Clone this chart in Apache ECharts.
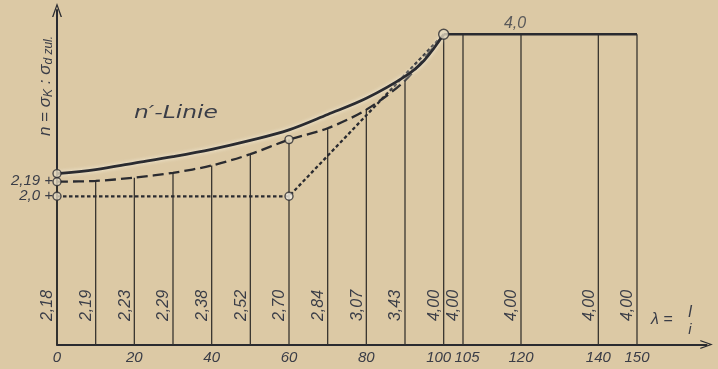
<!DOCTYPE html>
<html>
<head>
<meta charset="utf-8">
<script src="https://cdn.jsdelivr.net/npm/echarts@6/dist/echarts.min.js"></script>
<style>
  html, body { margin: 0; padding: 0; background: #dcc9a5; }
  #chart { width: 718px; height: 369px; }
</style>
</head>
<body>
<div id="chart"></div>
<script>
// Slenderness ratio λ = l/i at the marked stations
const lambdaValues = [0, 10, 20, 30, 40, 50, 60, 70, 80, 90, 100, 105, 120, 140, 150];
// Safety factor n = σK : σd zul. at each station
const nValues = [2.18, 2.19, 2.23, 2.29, 2.38, 2.52, 2.70, 2.84, 3.07, 3.43, 4.00, 4.00, 4.00, 4.00, 4.00];
// n'-line (solid curve)
const nPrimeLambda = [0, 10, 20, 30, 40, 50, 60, 70, 80, 90, 95, 100];
const nPrimeValues = [2.28, 2.33, 2.41, 2.49, 2.58, 2.69, 2.82, 3.01, 3.21, 3.48, 3.68, 4.00];
// Simplified straight-line approximation (dotted)
const simpleLambda = [0, 60, 100];
const simpleValues = [2.0, 2.0, 4.0];
// Axis ticks
const xTickValues = [0, 20, 40, 60, 80, 100, 105, 120, 140, 150];
const yTickValues = [2.0, 2.19];
const yTickLabels = ['2,0', '2,19'];
const plateauLabel = '4,0';
const plateauLabelAt = 120;

const INK = '#2a2b30';
const TEXT = '#3a3d47';
const PAPER = '#dcc9a5';
const FONT = '"Liberation Sans", "DejaVu Sans", sans-serif';

const Y_MIN = 0.17, Y_MAX = 4.30;
const X_MAX = 168;

const curvePoints = lambdaValues
  .map((l, i) => [l, nValues[i]])
  .filter(p => p[0] <= 100);
const plateauPoints = lambdaValues
  .map((l, i) => [l, nValues[i]])
  .filter(p => p[0] >= 100);
const nPrimePoints = nPrimeLambda.map((l, i) => [l, nPrimeValues[i]]);
const simplePoints = simpleLambda.map((l, i) => [l, simpleValues[i]]);

const chevron = 'path://M0,14 L5,0 L10,14 L8.6,14 L5,3.6 L1.4,14 Z';

const chart = echarts.init(document.getElementById('chart'), null, { renderer: 'canvas' });

chart.setOption({
  backgroundColor: PAPER,
  animation: false,
  grid: { left: 57, right: 11.4, top: 10, bottom: 24.5, outerBoundsMode: 'none' },
  xAxis: {
    type: 'value',
    min: 0,
    max: X_MAX,
    splitLine: { show: false },
    axisTick: { show: false },
    axisLine: {
      lineStyle: { color: INK, width: 2 },
      symbol: ['none', chevron],
      symbolSize: [9, 13]
    },
    axisLabel: {
      customValues: xTickValues,
      margin: 6,
      color: TEXT,
      fontStyle: 'italic',
      fontFamily: FONT,
      fontSize: 15,
      formatter: v => v === 100 ? '{l|100}' : v === 105 ? '{r|105}' : String(v),
      rich: {
        l: { padding: [0, 10, 0, 0], fontStyle: 'italic', fontFamily: FONT, fontSize: 15, color: TEXT },
        r: { padding: [0, 0, 0, 8], fontStyle: 'italic', fontFamily: FONT, fontSize: 15, color: TEXT }
      }
    }
  },
  yAxis: {
    type: 'value',
    min: Y_MIN,
    max: Y_MAX,
    splitLine: { show: false },
    axisTick: { show: false },
    axisLine: {
      lineStyle: { color: INK, width: 2 },
      symbol: ['none', chevron],
      symbolSize: [10, 14]
    },
    axisLabel: {
      customValues: yTickValues,
      margin: 4,
      color: TEXT,
      fontStyle: 'italic',
      fontFamily: FONT,
      fontSize: 15,
      formatter: v => {
        const i = yTickValues.findIndex(t => Math.abs(t - v) < 1e-6);
        return (i >= 0 ? yTickLabels[i] : '') + ' +';
      }
    }
  },
  series: [
    {
      // station verticals with their n values
      type: 'custom',
      z: 2,
      data: lambdaValues.map((l, i) => [l, nValues[i]]),
      renderItem: (params, api) => {
        const lam = api.value(0);
        const v = api.value(1);
        const top = api.coord([lam, v]);
        const base = params.coordSys.y + params.coordSys.height;
        return {
          type: 'group',
          children: [
            {
              type: 'line',
              shape: { x1: top[0], y1: base, x2: top[0], y2: top[1] },
              style: { stroke: '#38352f', lineWidth: 1.3 }
            },
            {
              type: 'text',
              x: top[0] - 9,
              y: base - 39,
              rotation: Math.PI / 2,
              style: {
                text: v.toFixed(2).replace('.', ','),
                fill: TEXT,
                font: 'italic 16px ' + FONT,
                align: 'center',
                verticalAlign: 'middle'
              }
            }
          ]
        };
      }
    },
    {
      // simplified approximation
      type: 'line',
      z: 3,
      data: simplePoints,
      showSymbol: false,
      lineStyle: { color: INK, width: 2.3, type: [3.5, 2.5] }
    },
    {
      // n curve through the station values
      type: 'line',
      z: 4,
      data: curvePoints,
      showSymbol: false,
      smooth: 0.3,
      lineStyle: { color: INK, width: 2.3, type: [11, 5] }
    },
    {
      // n'-Linie
      type: 'line',
      z: 5,
      data: nPrimePoints,
      showSymbol: false,
      smooth: 0.35,
      lineStyle: {
        color: INK, width: 2.7,
        shadowColor: 'rgba(250,246,232,0.9)', shadowBlur: 4
      }
    },
    {
      // plateau n = 4,0
      type: 'line',
      z: 5,
      data: plateauPoints,
      showSymbol: false,
      lineStyle: { color: INK, width: 2.4 }
    },
    {
      // plateau value label
      type: 'scatter',
      z: 6,
      symbolSize: 0,
      data: plateauPoints.filter(p => p[0] === plateauLabelAt),
      label: {
        show: true,
        position: 'top',
        distance: 3,
        offset: [-6, 0],
        formatter: plateauLabel,
        color: TEXT,
        fontStyle: 'italic',
        fontFamily: FONT,
        fontSize: 16
      }
    },
    {
      // junction circles
      type: 'scatter',
      z: 6,
      symbol: 'circle',
      symbolSize: 8,
      itemStyle: { color: '#e4dac2', borderColor: INK, borderWidth: 1.4 },
      data: [
        nPrimePoints[0],
        curvePoints[0],
        simplePoints[0],
        curvePoints[6],
        { value: simplePoints[1], itemStyle: { color: '#f2eee2' } },
        { value: nPrimePoints[nPrimePoints.length - 1], symbolSize: 10 }
      ]
    }
  ],
  graphic: [
    {
      type: 'text',
      x: 45, y: 86,
      rotation: Math.PI / 2,
      style: {
        text: '{a|n = σ}{s|K}{a| : σ}{s|d zul.}',
        align: 'center', verticalAlign: 'middle',
        rich: {
          a: { font: 'italic 17px ' + FONT, fill: TEXT },
          s: { font: 'italic 12px ' + FONT, fill: TEXT, padding: [7, 0, 0, 0] }
        }
      }
    },
    {
      type: 'text',
      x: 176, y: 113,
      scaleX: 1.3,
      style: {
        text: 'n′-Linie',
        font: 'italic 18px "DejaVu Sans", sans-serif',
        fill: TEXT,
        align: 'center', verticalAlign: 'middle'
      }
    },
    {
      type: 'text',
      x: 651, y: 320,
      style: {
        text: 'λ =',
        font: 'italic 16px ' + FONT,
        fill: TEXT,
        align: 'left', verticalAlign: 'middle'
      }
    },
    {
      type: 'text',
      x: 690, y: 313,
      style: {
        text: 'l',
        font: 'italic 16px ' + FONT,
        fill: TEXT,
        align: 'center', verticalAlign: 'middle'
      }
    },
    {
      type: 'text',
      x: 690, y: 330,
      style: {
        text: 'i',
        font: 'italic 15px ' + FONT,
        fill: TEXT,
        align: 'center', verticalAlign: 'middle'
      }
    }
  ]
});
</script>
</body>
</html>
